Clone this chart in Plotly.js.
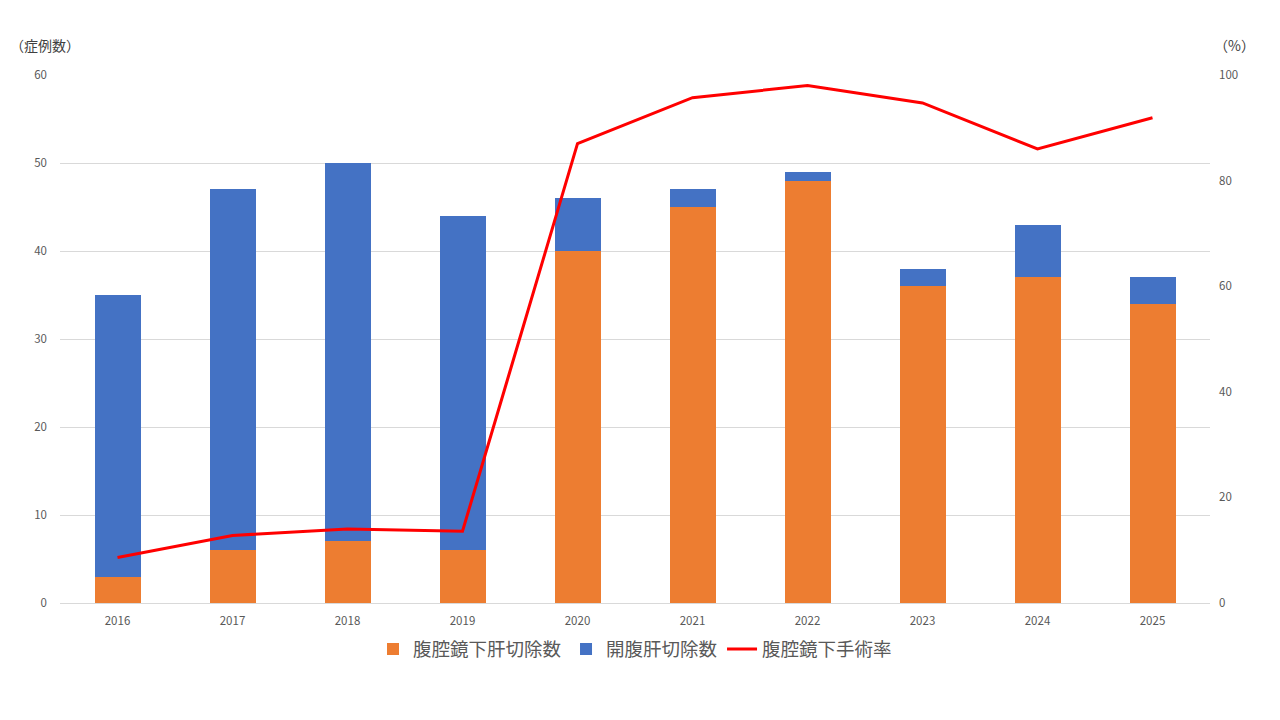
<!DOCTYPE html>
<html><head><meta charset="utf-8">
<script src="https://cdn.plot.ly/plotly-3.0.1.min.js"></script>
<style>html,body{margin:0;padding:0;background:#fff}#chart{width:1280px;height:720px}</style>
</head><body><div id="chart"></div>
<script>
const years = ['2016','2017','2018','2019','2020','2021','2022','2023','2024','2025'];
const laparoscopic = [3, 6, 7, 6, 40, 45, 48, 36, 37, 34];
const openSurgery = [32, 41, 43, 38, 6, 2, 1, 2, 6, 3];
const laparoscopicRate = [8.6, 12.8, 14.0, 13.6, 87.0, 95.7, 98.0, 94.7, 86.0, 91.9];

const FONT = '"Noto Sans CJK JP", "Noto Sans", sans-serif';
const GRAY = '#595959';

const traces = [
  {type:'bar', name:'腹腔鏡下肝切除数', x:years, y:laparoscopic, marker:{color:'#ED7D31'}, yaxis:'y'},
  {type:'bar', name:'開腹肝切除数', x:years, y:openSurgery, marker:{color:'#4472C4'}, yaxis:'y'},
  {type:'scatter', mode:'lines', name:'腹腔鏡下手術率', x:years, y:laparoscopicRate, line:{color:'#FF0000', width:3}, yaxis:'y2'}
];

const layout = {
  width:1280, height:720,
  margin:{l:60, r:70, t:75, b:117},
  barmode:'stack', bargap:0.6,
  paper_bgcolor:'#fff', plot_bgcolor:'#fff',
  font:{family:FONT, color:GRAY, size:11},
  showlegend:true,
  legend:{orientation:'h', x:0.5, xanchor:'center', y:-0.052, yanchor:'top', font:{size:18.5, color:GRAY}, traceorder:'normal', itemwidth:30},
  xaxis:{type:'category', showgrid:false, showline:true, linecolor:'#d9d9d9', linewidth:1, ticks:'', tickfont:{size:11.5, color:GRAY}, ticklabelstandoff:7},
  yaxis:{range:[0,60], dtick:10, showgrid:true, gridcolor:'#d9d9d9', zeroline:false, ticks:'', tickfont:{size:11.5, color:GRAY}, ticklabelstandoff:12},
  yaxis2:{range:[0,100], dtick:20, overlaying:'y', side:'right', showgrid:false, zeroline:false, ticks:'', tickfont:{size:11.5, color:GRAY}, ticklabelstandoff:8},
  annotations:[
    {text:'（症例数）', xref:'paper', yref:'paper', x:-0.045, y:1.0, yshift:30, xanchor:'left', yanchor:'middle', showarrow:false, font:{size:14, color:'#404040'}},
    {text:'（%）', xref:'paper', yref:'paper', x:1.0, y:1.0, xshift:2, yshift:30, xanchor:'left', yanchor:'middle', showarrow:false, font:{size:14, color:'#404040'}}
  ]
};

Plotly.newPlot('chart', traces, layout, {displayModeBar:false, staticPlot:true});
</script></body></html>
